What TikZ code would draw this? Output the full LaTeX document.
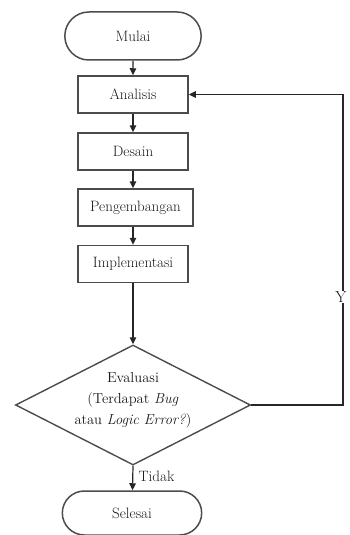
\documentclass[tikz,border=0pt]{standalone}
\usepackage{amsmath, amssymb, tikz}
\usetikzlibrary{arrows.meta,shapes.geometric,shapes.misc}

\tikzset{
  terminal/.style={rounded rectangle,draw=black!70,line width=1.5pt,minimum width=143pt,minimum height=48pt},
  proses/.style={rectangle,draw=black!70,line width=1.5pt,minimum width=110pt,minimum height=37pt},
  keputusan/.style={diamond,draw=black!70,line width=1.4pt,minimum width=235pt,minimum height=120pt,inner sep=0pt},
  panah/.style={draw=black!85,line width=1.2pt,-{Triangle[length=7pt,width=6.5pt]}}
}

\begin{document}
\begin{tikzpicture}[x=1pt,y=-1pt,font=\fontsize{15}{20}\selectfont,text=black!90]
        \useasboundingbox (0,0) rectangle (349,535);

        \node[terminal] (mulai) at (133,36) {Mulai};
        \node[proses] (analisis) at (133,94.5) {Analisis};
        \node[proses] (desain) at (133,151.5) {Desain};
        \node[proses,minimum width=115pt] (pengembangan) at (135.5,207.5) {Pengembangan};
        \node[proses] (implementasi) at (133,264) {Implementasi};
        \node[keputusan] (evaluasi) at (133,405) {};
        \node[align=center,font=\fontsize{14.5}{21}\selectfont] (teks) at (133,400)
          {Evaluasi\\(Terdapat \textit{Bug}\\atau \textit{Logic Error?})};
        \node[terminal,minimum width=146pt,minimum height=44pt] (selesai) at (132,513) {Selesai};

        \coordinate (kanan) at (343,250);

        \draw[panah] (mulai) -- (analisis);
        \draw[panah] (analisis) -- (desain);
        \draw[panah] (desain) -- (desain |- pengembangan.north);
        \draw[panah] (desain |- pengembangan.south) -- (implementasi);
        \draw[panah] (implementasi) -- (evaluasi.north);
        \draw[panah] (evaluasi.south) -- (selesai) node[pos=0.45,right=2pt] (tidak) {Tidak};
        \draw[panah] (evaluasi.east) -| (kanan) |- (analisis.east);
        \node[fill=white,inner sep=1pt,font=\fontsize{16}{20}\selectfont] (ya) at (341,297) {Y};
      \end{tikzpicture}
\end{document}
